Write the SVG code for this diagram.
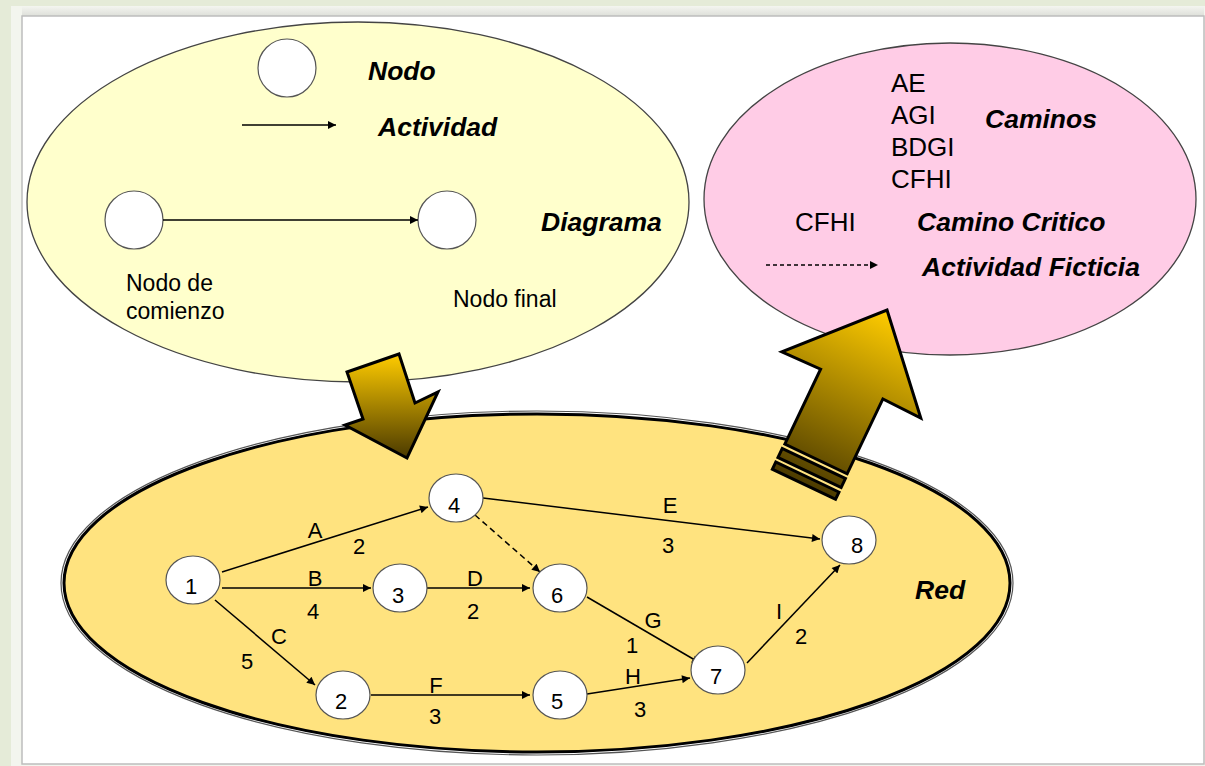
<svg xmlns="http://www.w3.org/2000/svg" width="1205" height="766" viewBox="0 0 1205 766">
  <defs>
    <linearGradient id="goldDown" x1="0" y1="354" x2="0" y2="458" gradientUnits="userSpaceOnUse">
      <stop offset="0" stop-color="#ffcc00"/>
      <stop offset="1" stop-color="#4a3900"/>
    </linearGradient>
    <linearGradient id="goldUp" x1="0" y1="-165" x2="0" y2="30" gradientUnits="userSpaceOnUse">
      <stop offset="0" stop-color="#ffcc00"/>
      <stop offset="1" stop-color="#4a3900"/>
    </linearGradient>
    <linearGradient id="panelShade" x1="0" y1="0" x2="0" y2="1">
      <stop offset="0" stop-color="#f4f5f0"/>
      <stop offset="1" stop-color="#d9dbd5"/>
    </linearGradient>
    <marker id="arrow" viewBox="0 0 10 10" refX="10" refY="5" markerWidth="10" markerHeight="8" markerUnits="userSpaceOnUse" orient="auto">
      <path d="M0,0 L10,5 L0,10 z" fill="#000"/>
    </marker>
    <style>
      .num { font-family: "Liberation Sans", Arial, sans-serif; font-size: 22px; fill: #000; text-anchor: middle; }
      .title { font-family: "Liberation Sans", Arial, sans-serif; font-size: 26.5px; font-weight: bold; font-style: italic; fill: #000; }
      .path { font-family: "Liberation Sans", Arial, sans-serif; font-size: 26px; fill: #000; }
      .note { font-family: "Liberation Sans", Arial, sans-serif; font-size: 23px; fill: #000; }
      .node { fill: #fff; stroke: #555; stroke-width: 1.2; }
      .edge { stroke: #000; stroke-width: 1.5; fill: none; marker-end: url(#arrow); }
      .dash { stroke-dasharray: 6 4; }
    </style>
  </defs>

  <!-- page background and white panel -->
  <rect x="0" y="0" width="1205" height="766" fill="#e5ebd8"/>
  <rect x="11" y="6" width="1194" height="760" fill="#f3f5ee"/>
  <rect x="22" y="6" width="1182" height="12" fill="url(#panelShade)"/>
  <rect x="22" y="16" width="1182" height="748" fill="#fff" stroke="#bdbdbd" stroke-width="1.5"/>

  <!-- legend: symbols -->
  <g id="legend">
    <ellipse cx="358" cy="202" rx="331" ry="180" fill="#ffffcc" stroke="#444" stroke-width="1.3"/>
    <circle cx="287" cy="68" r="29" class="node"/>
    <text x="368" y="80" class="title">Nodo</text>
    <line x1="242" y1="125" x2="336" y2="125" class="edge"/>
    <text x="378" y="136" class="title">Actividad</text>
    <circle cx="134" cy="220" r="29" class="node"/>
    <circle cx="447" cy="220" r="29" class="node"/>
    <line x1="163" y1="220" x2="418" y2="220" class="edge"/>
    <text x="541" y="231" class="title">Diagrama</text>
    <text x="126" y="291" class="note">Nodo de</text>
    <text x="126" y="319" class="note">comienzo</text>
    <text x="453" y="307" class="note">Nodo final</text>
  </g>

  <!-- results: paths and critical path -->
  <g id="results">
    <ellipse cx="950" cy="199" rx="246" ry="156" fill="#ffcce6" stroke="#444" stroke-width="1.3"/>
    <text x="891" y="92" class="path">AE</text>
    <text x="891" y="124" class="path">AGI</text>
    <text x="891" y="156" class="path">BDGI</text>
    <text x="891" y="188" class="path">CFHI</text>
    <text x="985" y="128" class="title">Caminos</text>
    <text x="795" y="231" class="path">CFHI</text>
    <text x="917" y="231" class="title">Camino Critico</text>
    <line x1="766" y1="265" x2="878" y2="265" class="edge" stroke-dasharray="4 3" stroke-width="1.2"/>
    <text x="922" y="276" class="title">Actividad Ficticia</text>
  </g>

  <!-- network area -->
  <g id="red">
    <ellipse cx="537" cy="583" rx="476" ry="172" fill="none" stroke="#555" stroke-width="1.2"/>
    <ellipse cx="537" cy="583" rx="473" ry="169" fill="#ffe37f" stroke="#000" stroke-width="3"/>
    <text x="915" y="599" class="title">Red</text>
  </g>

  <!-- flow arrow: legend into network -->
  <g id="arrow-down">
    <polygon points="347,372 399,354 415,403 438,392 407,458 345,425 363,419" fill="url(#goldDown)" stroke="#000" stroke-width="3" stroke-linejoin="miter"/>
  </g>

  <!-- flow arrow: network into results -->
  <g id="arrow-up" transform="translate(816,459) rotate(25.5)">
    <polygon points="-34.5,0 -34.5,-83 -77,-82 0,-165 77,-82 34.5,-83 34.5,0" fill="url(#goldUp)" stroke="#000" stroke-width="3"/>
    <rect x="-35" y="5" width="70" height="10" fill="url(#goldUp)" stroke="#000" stroke-width="3"/>
    <rect x="-35" y="20" width="70" height="8" fill="url(#goldUp)" stroke="#000" stroke-width="3"/>
  </g>

  <!-- activity arrows -->
  <g id="connectors">
    <line x1="222" y1="572" x2="428" y2="507" class="edge"/>
    <line x1="222" y1="588" x2="371" y2="588" class="edge"/>
    <line x1="215" y1="600" x2="315" y2="685" class="edge"/>
    <line x1="427" y1="588" x2="530" y2="588" class="edge"/>
    <line x1="475" y1="515" x2="540" y2="572" class="edge dash"/>
    <line x1="371" y1="695" x2="530" y2="695" class="edge"/>
    <line x1="483" y1="498" x2="820" y2="539" class="edge"/>
    <line x1="587" y1="597" x2="700" y2="663" class="edge"/>
    <line x1="587" y1="694" x2="690" y2="678" class="edge"/>
    <line x1="747" y1="663" x2="840" y2="565" class="edge"/>

    <text x="315" y="538" class="num">A</text>
    <text x="359" y="554" class="num">2</text>
    <text x="315" y="586" class="num">B</text>
    <text x="313" y="619" class="num">4</text>
    <text x="279" y="644" class="num">C</text>
    <text x="247" y="669" class="num">5</text>
    <text x="475" y="586" class="num">D</text>
    <text x="473" y="619" class="num">2</text>
    <text x="436" y="693" class="num">F</text>
    <text x="435" y="724" class="num">3</text>
    <text x="670" y="513" class="num">E</text>
    <text x="668" y="553" class="num">3</text>
    <text x="653" y="628" class="num">G</text>
    <text x="632" y="653" class="num">1</text>
    <text x="633" y="684" class="num">H</text>
    <text x="640" y="717" class="num">3</text>
    <text x="779" y="619" class="num">I</text>
    <text x="801" y="644" class="num">2</text>
  </g>

  <!-- events -->
  <g id="n1"><ellipse cx="193" cy="580" rx="27" ry="24" class="node"/><text x="191" y="594" class="num">1</text></g>
  <g id="n2"><ellipse cx="343" cy="695" rx="27" ry="24" class="node"/><text x="341" y="709" class="num">2</text></g>
  <g id="n3"><ellipse cx="400" cy="588" rx="27" ry="24" class="node"/><text x="398" y="603" class="num">3</text></g>
  <g id="n4"><ellipse cx="456" cy="498" rx="27" ry="24" class="node"/><text x="454" y="513" class="num">4</text></g>
  <g id="n5"><ellipse cx="560" cy="695" rx="27" ry="24" class="node"/><text x="557" y="709" class="num">5</text></g>
  <g id="n6"><ellipse cx="560" cy="588" rx="27" ry="24" class="node"/><text x="557" y="603" class="num">6</text></g>
  <g id="n7"><ellipse cx="718" cy="670" rx="27" ry="24" class="node"/><text x="716" y="684" class="num">7</text></g>
  <g id="n8"><ellipse cx="849" cy="540" rx="27" ry="24" class="node"/><text x="857" y="553" class="num">8</text></g>
</svg>
